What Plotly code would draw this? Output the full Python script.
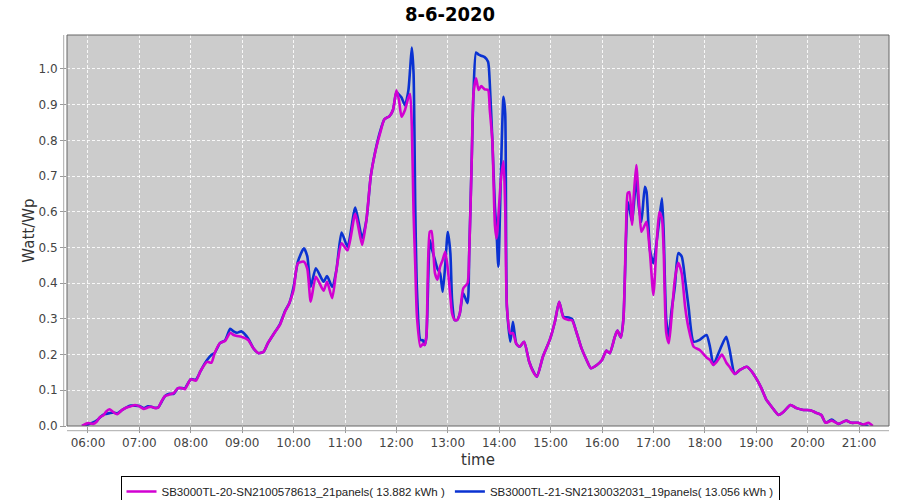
import plotly.graph_objects as go

DAY = "2020-06-08 "

times = [
    "05:53", "06:00", "06:06", "06:10", "06:14", "06:18", "06:21", "06:25", "06:30", "06:34",
    "06:40", "06:45", "06:50", "06:55", "07:00", "07:05", "07:10", "07:14", "07:18", "07:22",
    "07:26", "07:30", "07:35", "07:40", "07:45", "07:50", "07:53", "08:00", "08:06", "08:11",
    "08:15", "08:19", "08:24", "08:28", "08:34", "08:40", "08:46", "08:50", "08:54", "08:59",
    "09:07", "09:13", "09:19", "09:25", "09:30", "09:36", "09:44", "09:50", "09:55", "10:00",
    "10:05", "10:12", "10:16", "10:20", "10:26", "10:35", "10:39", "10:45", "10:50", "10:56",
    "11:03", "11:12", "11:20", "11:25", "11:30", "11:35", "11:41", "11:46", "11:52", "11:56",
    "12:00", "12:03", "12:06", "12:10", "12:14", "12:16", "12:18", "12:20", "12:22", "12:24",
    "12:28", "12:31", "12:33", "12:35", "12:39", "12:41", "12:45", "12:48", "12:51", "12:54",
    "12:57", "13:00", "13:03", "13:05", "13:08", "13:11", "13:14", "13:18", "13:23", "13:25",
    "13:28", "13:30", "13:33", "13:36", "13:39", "13:43", "13:47", "13:49", "13:52", "13:55",
    "13:57", "13:59", "14:02", "14:05", "14:07", "14:09", "14:13", "14:16", "14:20", "14:24",
    "14:29", "14:35", "14:40", "14:44", "14:51", "14:59", "15:05", "15:10", "15:15", "15:21",
    "15:25", "15:30", "15:36", "15:42", "15:47", "15:54", "16:00", "16:05", "16:09", "16:15",
    "16:18", "16:22", "16:25", "16:28", "16:30", "16:32", "16:35", "16:37", "16:40", "16:43",
    "16:46", "16:50", "16:52", "16:56", "17:00", "17:04", "17:07", "17:10", "17:12", "17:15",
    "17:18", "17:21", "17:25", "17:29", "17:33", "17:37", "17:41", "17:47", "17:54", "18:02",
    "18:06", "18:10", "18:14", "18:20", "18:25", "18:29", "18:35", "18:41", "18:49", "18:55",
    "19:01", "19:06", "19:12", "19:18", "19:26", "19:32", "19:40", "19:47", "19:55", "20:03",
    "20:11", "20:16", "20:21", "20:28", "20:36", "20:45", "20:51", "20:59", "21:05", "21:11",
    "21:16",
]

sn20_values = [
    0.000, 0.008, 0.006, 0.012, 0.025, 0.030, 0.040, 0.047, 0.038, 0.033,
    0.045, 0.052, 0.055, 0.059, 0.055, 0.048, 0.052, 0.054, 0.050, 0.052,
    0.070, 0.084, 0.088, 0.092, 0.106, 0.106, 0.103, 0.131, 0.127, 0.152,
    0.168, 0.180, 0.177, 0.205, 0.232, 0.238, 0.261, 0.255, 0.252, 0.250,
    0.241, 0.218, 0.204, 0.208, 0.232, 0.255, 0.283, 0.320, 0.344, 0.381,
    0.456, 0.460, 0.440, 0.348, 0.418, 0.379, 0.404, 0.358, 0.437, 0.512,
    0.492, 0.594, 0.507, 0.577, 0.698, 0.764, 0.820, 0.859, 0.868, 0.885,
    0.940, 0.913, 0.866, 0.885, 0.920, 0.930, 0.840, 0.600, 0.450, 0.306,
    0.222, 0.230, 0.227, 0.250, 0.544, 0.546, 0.428, 0.410, 0.446, 0.465,
    0.488, 0.440, 0.362, 0.315, 0.297, 0.297, 0.315, 0.385, 0.400, 0.484,
    0.755, 0.932, 0.974, 0.941, 0.952, 0.943, 0.941, 0.885, 0.800, 0.562,
    0.525, 0.586, 0.690, 0.741, 0.614, 0.334, 0.259, 0.260, 0.230, 0.222,
    0.236, 0.180, 0.150, 0.138, 0.194, 0.241, 0.292, 0.348, 0.303, 0.297,
    0.296, 0.264, 0.218, 0.185, 0.162, 0.171, 0.185, 0.211, 0.204, 0.250,
    0.267, 0.248, 0.300, 0.545, 0.652, 0.655, 0.563, 0.642, 0.731, 0.633,
    0.544, 0.563, 0.572, 0.484, 0.367, 0.521, 0.600, 0.580, 0.490, 0.260,
    0.232, 0.300, 0.410, 0.457, 0.428, 0.334, 0.274, 0.222, 0.213, 0.192,
    0.185, 0.171, 0.180, 0.200, 0.178, 0.165, 0.146, 0.157, 0.166, 0.152,
    0.129, 0.106, 0.073, 0.054, 0.031, 0.040, 0.059, 0.050, 0.045, 0.044,
    0.036, 0.031, 0.009, 0.015, 0.006, 0.015, 0.009, 0.009, 0.004, 0.009,
    0.000,
]

sn21_values = [
    0.000, 0.004, 0.010, 0.015, 0.024, 0.032, 0.034, 0.036, 0.038, 0.035,
    0.045, 0.052, 0.057, 0.057, 0.056, 0.050, 0.055, 0.054, 0.051, 0.052,
    0.068, 0.084, 0.090, 0.090, 0.106, 0.106, 0.105, 0.131, 0.130, 0.152,
    0.170, 0.185, 0.199, 0.205, 0.232, 0.240, 0.272, 0.265, 0.261, 0.265,
    0.245, 0.218, 0.204, 0.208, 0.232, 0.255, 0.285, 0.322, 0.344, 0.390,
    0.460, 0.498, 0.475, 0.390, 0.442, 0.404, 0.420, 0.390, 0.437, 0.542,
    0.502, 0.612, 0.526, 0.577, 0.698, 0.765, 0.825, 0.859, 0.868, 0.885,
    0.935, 0.928, 0.920, 0.898, 0.940, 1.000, 1.060, 0.990, 0.614, 0.381,
    0.241, 0.240, 0.227, 0.250, 0.521, 0.500, 0.465, 0.440, 0.428, 0.376,
    0.450, 0.544, 0.484, 0.353, 0.297, 0.297, 0.315, 0.372, 0.344, 0.484,
    0.755, 0.932, 1.046, 1.040, 1.037, 1.033, 1.020, 0.960, 0.800, 0.614,
    0.537, 0.446, 0.707, 0.922, 0.875, 0.334, 0.236, 0.292, 0.230, 0.222,
    0.236, 0.180, 0.152, 0.138, 0.194, 0.241, 0.292, 0.348, 0.306, 0.304,
    0.300, 0.264, 0.218, 0.185, 0.162, 0.171, 0.185, 0.211, 0.204, 0.250,
    0.267, 0.248, 0.300, 0.521, 0.628, 0.610, 0.572, 0.614, 0.694, 0.614,
    0.572, 0.670, 0.655, 0.493, 0.456, 0.521, 0.580, 0.638, 0.540, 0.297,
    0.250, 0.320, 0.390, 0.484, 0.475, 0.410, 0.334, 0.236, 0.241, 0.255,
    0.222, 0.171, 0.192, 0.227, 0.250, 0.213, 0.146, 0.157, 0.166, 0.152,
    0.129, 0.106, 0.073, 0.054, 0.031, 0.040, 0.059, 0.050, 0.045, 0.044,
    0.036, 0.031, 0.009, 0.018, 0.006, 0.015, 0.009, 0.009, 0.003, 0.000,
    None,
]

series_names = [
    "SB3000TL-20-SN2100578613_21panels( 13.882 kWh )",
    "SB3000TL-21-SN2130032031_19panels( 13.056 kWh )",
]
tick_hours = ["06:00", "07:00", "08:00", "09:00", "10:00", "11:00", "12:00", "13:00",
              "14:00", "15:00", "16:00", "17:00", "18:00", "19:00", "20:00", "21:00"]
title_text = "8-6-2020"

x = [DAY + t for t in times]

fig = go.Figure()
fig.add_trace(go.Scatter(
    x=x, y=sn21_values, name=series_names[1], mode="lines",
    line=dict(color="#0a32d2", width=2.6, shape="spline", smoothing=0.6),
    connectgaps=False, legendrank=2,
))
fig.add_trace(go.Scatter(
    x=x, y=sn20_values, name=series_names[0], mode="lines",
    line=dict(color="#d200d2", width=2.6, shape="spline", smoothing=0.6),
    legendrank=1,
))

grid = dict(showgrid=True, gridcolor="rgba(255,255,255,0.85)", gridwidth=1, griddash="3px,2px")

fig.update_layout(
    width=900, height=500,
    margin=dict(l=67, r=11, t=35, b=74, autoexpand=False),
    paper_bgcolor="white", plot_bgcolor="#cccccc",
    title=dict(text="<b>" + title_text + "</b>", x=0.5, xanchor="center",
               y=1 - 14 / 500, yanchor="middle", yref="container",
               font=dict(family="DejaVu Sans Condensed, DejaVu Sans", size=20, color="black")),
    font=dict(family="DejaVu Sans", color="#444444"),
    showlegend=True,
    legend=dict(orientation="h", x=0.5, xanchor="center", xref="container",
                y=1 - 476 / 500, yanchor="top", yref="container",
                bordercolor="black", borderwidth=1, bgcolor="white",
                font=dict(family="Liberation Sans", size=11.5, color="#222222"),
                itemwidth=30, tracegroupgap=0),
    xaxis=dict(
        type="date", automargin=False,
        range=[DAY + "05:35:30", DAY + "21:35:00"],
        tickvals=[DAY + t for t in tick_hours], ticktext=tick_hours,
        ticks="outside", ticklen=6, tickcolor="#999999",
        tickfont=dict(size=12, color="#444444"),
        title=dict(text="time", font=dict(size=15, color="#333333"), standoff=5),
        showline=False, zeroline=False, **grid,
    ),
    yaxis=dict(
        automargin=False,
        range=[0, 1.095], dtick=0.1, tickformat=".1f",
        ticks="outside", ticklen=6, tickcolor="#999999",
        tickfont=dict(size=12, color="#444444"),
        title=dict(text="Watt/Wp", font=dict(size=15, color="#333333"), standoff=0),
        showline=False, zeroline=False, **grid,
    ),
    shapes=[
        dict(type="rect", xref="paper", yref="paper", x0=0, x1=1, y0=0, y1=1,
             line=dict(color="#666666", width=1), fillcolor="rgba(0,0,0,0)", layer="above"),
        dict(type="line", xref="paper", yref="paper", x0=0, x1=1, y0=-0.012, y1=-0.012,
             line=dict(color="#aaaaaa", width=1)),
        dict(type="line", xref="paper", yref="paper", x0=-0.004, x1=-0.004, y0=0, y1=1,
             line=dict(color="#aaaaaa", width=1)),
    ],
)

fig.write_html("out.html", config={"displayModeBar": False},
               post_script="document.body.style.margin='0px';")
